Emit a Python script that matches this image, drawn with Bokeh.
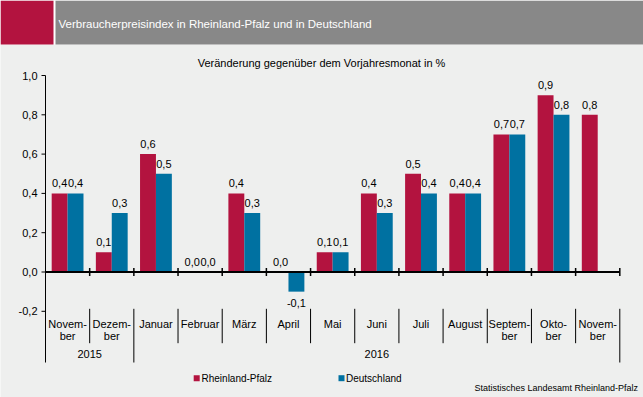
import numpy as np
from bokeh.plotting import figure
from bokeh.models import Range1d
from bokeh.core.properties import value
from bokeh.embed import file_html
from bokeh.resources import INLINE

# ---------------- data ----------------
months = ["Novem-\nber", "Dezem-\nber", "Januar", "Februar", "März", "April", "Mai",
          "Juni", "Juli", "August", "Septem-\nber", "Okto-\nber", "Novem-\nber"]
years = ["2015", "2015", "2016", "2016", "2016", "2016", "2016",
         "2016", "2016", "2016", "2016", "2016", "2016"]
rheinland_pfalz = [0.4, 0.1, 0.6, 0.0, 0.4, 0.0, 0.1, 0.4, 0.5, 0.4, 0.7, 0.9, 0.8]
deutschland = [0.4, 0.3, 0.5, 0.0, 0.3, -0.1, 0.1, 0.3, 0.4, 0.4, 0.7, 0.8, None]
y_ticks = [-0.2, 0.0, 0.2, 0.4, 0.6, 0.8, 1.0]
y_tick_labels = ["-0,2", "0,0", "0,2", "0,4", "0,6", "0,8", "1,0"]
series_names = ["Rheinland-Pfalz", "Deutschland"]
series_colors = ["#B3133F", "#0071A1"]
title = "Verbraucherpreisindex in Rheinland-Pfalz und in Deutschland"
subtitle = "Veränderung gegenüber dem Vorjahresmonat in %"
source_note = "Statistisches Landesamt Rheinland-Pfalz"

# ---------------- layout ----------------
W, H, M = 643, 397, 0
BG = "#EEEFEE"
HEADER_GRAY = "#888888"
FONT = value("Liberation Sans")
X0, X13 = 45.0, 619.3
n = len(months)
CW = (X13 - X0) / n
Y0, PPU = 271.5, 196.5


def dx(sx):
    return (sx - X0) / CW


def dy(sy):
    return (Y0 - sy) / PPU


p = figure(width=W, height=H, output_backend="svg", toolbar_location=None,
           x_range=Range1d(dx(M), dx(M + W)), y_range=Range1d(dy(M + H), dy(M)),
           x_axis_type=None, y_axis_type=None,
           min_border=0, min_border_left=0, min_border_right=0,
           min_border_top=0, min_border_bottom=0,
           outline_line_color=None, background_fill_color=BG, border_fill_color=BG)

# header
p.quad(left=dx(M), right=dx(M + W), top=dy(M), bottom=dy(44), fill_color="white", line_color=None)
p.quad(left=dx(M), right=dx(53), top=dy(M), bottom=dy(44), fill_color=series_colors[0], line_color=None)
p.quad(left=dx(55), right=dx(M + W), top=dy(M), bottom=dy(44), fill_color=HEADER_GRAY, line_color=None)
p.text(x=[dx(58)], y=[dy(23)], text=[title], text_font=FONT, text_font_size=value("11.5px"),
       text_color="white", text_align="left", text_baseline="middle")
p.text(x=[dx(321)], y=[dy(62.5)], text=[subtitle], text_font=FONT, text_font_size=value("11px"),
       text_color="black", text_align="center", text_baseline="middle")

# bars
BW = 0.36
centers = np.arange(n) + 0.5
series = [rheinland_pfalz, deutschland]
offsets = [-BW / 2, BW / 2]
for vals, off, col in zip(series, offsets, series_colors):
    xs = [c + off for c, v in zip(centers, vals) if v is not None]
    vs = [v for v in vals if v is not None]
    p.vbar(x=xs, top=vs, bottom=0, width=BW, fill_color=col, line_color=None)
    labels = [f"{v:.1f}".replace(".", ",") for v in vs]
    yoff = [-10 if v >= 0 else 11 for v in vs]
    p.text(x=xs, y=vs, text=labels, y_offset=yoff, text_font=FONT, text_font_size=value("11px"),
           text_color="black", text_align="center", text_baseline="middle")

# x axis at zero
bounds = np.arange(1, n + 1)
p.segment(x0=[0], y0=[0], x1=[n], y1=[0], line_color="black", line_width=2)
p.segment(x0=bounds, y0=dy(275.5), x1=bounds, y1=dy(267.5), line_color="black", line_width=1.5)

# y axis
p.segment(x0=[0], y0=[max(y_ticks)], x1=[0], y1=[dy(362)], line_color="black", line_width=1)
p.segment(x0=dx(41), y0=y_ticks, x1=0, y1=y_ticks, line_color="black", line_width=1)
p.text(x=[dx(37)] * len(y_ticks), y=y_ticks, text=y_tick_labels, text_font=FONT,
       text_font_size=value("11px"), text_color="black", text_align="right", text_baseline="middle")

# category labels and separators
group_ends = [i + 1 for i in range(n) if i == n - 1 or years[i] != years[i + 1]]
sep_bottom = [dy(362) if b in group_ends else dy(342.7) for b in bounds]
p.segment(x0=bounds, y0=dy(308.3), x1=bounds, y1=sep_bottom, line_color="black", line_width=1)
line1 = [m.split("\n")[0] for m in months]
line2 = [m.split("\n")[1] if "\n" in m else "" for m in months]
p.text(x=centers, y=dy(323.3), text=line1, text_font=FONT, text_font_size=value("11px"),
       text_color="black", text_align="center", text_baseline="middle")
p.text(x=centers, y=dy(335), text=line2, text_font=FONT, text_font_size=value("11px"),
       text_color="black", text_align="center", text_baseline="middle")

# year labels
year_names, year_mid = [], []
start = 0
for e in group_ends:
    year_names.append(years[start])
    year_mid.append((start + e) / 2)
    start = e
p.text(x=year_mid, y=dy(353.3), text=year_names, text_font=FONT, text_font_size=value("11px"),
       text_color="black", text_align="center", text_baseline="middle")

# legend
leg_sq_x = [dx(196.2), dx(341)]
leg_tx_x = [dx(201), dx(345.5)]
p.scatter(x=leg_sq_x, y=[dy(377.7)] * 2, marker="square", size=6, fill_color=series_colors,
          line_color=None)
p.text(x=leg_tx_x, y=[dy(378)] * 2, text=series_names, text_font=FONT, text_font_size=value("10px"),
       text_color="black", text_align="left", text_baseline="middle")

# source
p.text(x=[dx(637.5)], y=[dy(387)], text=[source_note], text_font=FONT, text_font_size=value("9px"),
       text_color="black", text_align="right", text_baseline="middle")

open("out.html", "w").write(file_html(p, INLINE))
